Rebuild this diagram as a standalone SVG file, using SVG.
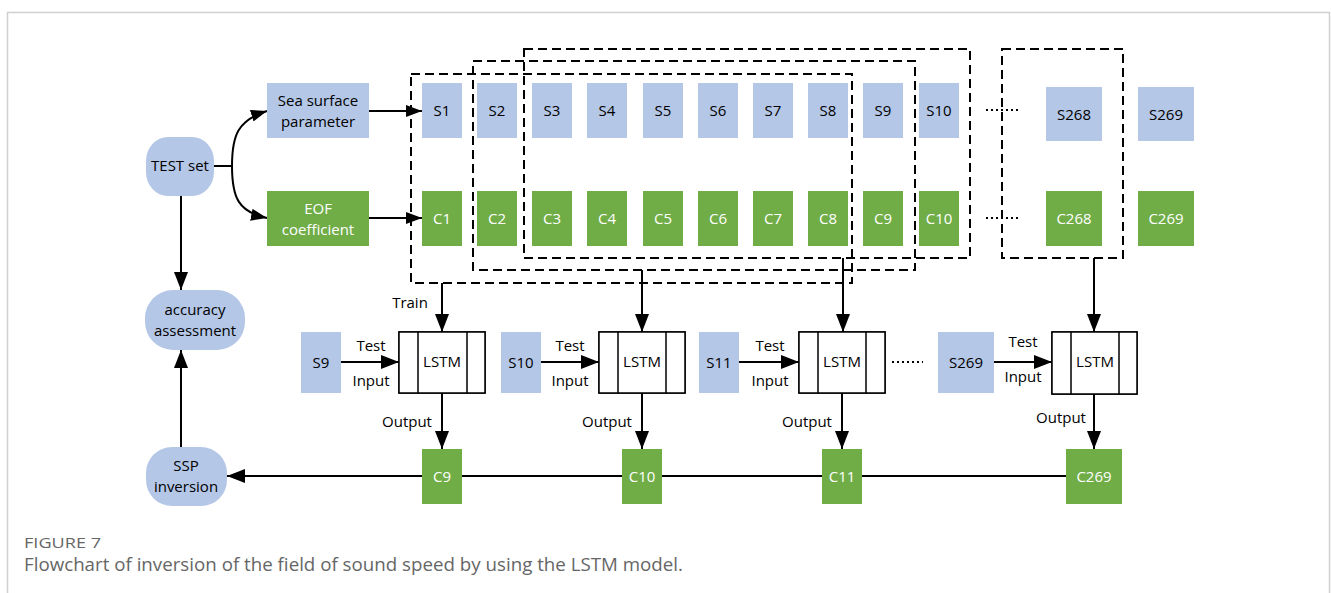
<svg xmlns="http://www.w3.org/2000/svg" width="1331" height="593" viewBox="0 0 1331 593">
<defs>
<marker id="ah" markerUnits="userSpaceOnUse" markerWidth="18" markerHeight="14" refX="18" refY="7" orient="auto"><path d="M0,0 L18,7 L0,14 z" fill="#000"/></marker>
<marker id="ahs" markerUnits="userSpaceOnUse" markerWidth="16" markerHeight="12" refX="16" refY="6" orient="auto"><path d="M0,0 L16,6 L0,12 z" fill="#000"/></marker>
<linearGradient id="lg" x1="0" y1="0" x2="1" y2="1"><stop offset="0" stop-color="#dde4f1"/><stop offset="1" stop-color="#ffffff"/></linearGradient>
<linearGradient id="lg2" x1="0" y1="0" x2="1" y2="1"><stop offset="0" stop-color="#eef1f8"/><stop offset="1" stop-color="#ffffff"/></linearGradient>
<style>
.b{fill:#b4c7e7}
.g{fill:#70ad47}
.t{font-family:"Open Sans","Liberation Sans",sans-serif;font-size:15px;fill:#000;text-anchor:middle}
.w{font-family:"Open Sans","Liberation Sans",sans-serif;font-size:15px;fill:#fff;text-anchor:middle}
.ln{fill:none;stroke:#000;stroke-width:2}
.d{fill:none;stroke:#000;stroke-width:2;stroke-dasharray:9 5}
.dot{fill:none;stroke:#000;stroke-width:2;stroke-dasharray:2 3}
.lstm{fill:#fff;stroke:#000;stroke-width:1.5}
</style>
</defs>
<rect width="1331" height="593" fill="#fff"/>
<path d="M7.5,593 V12.5 H1329.5 V593" fill="none" stroke="#d0d0d0" stroke-width="1.5"/>

<g id="connectors">
<path d="M214,166 H232" class="ln"/>
<path d="M232,166 C232,135 238,120 267,111" class="ln" marker-end="url(#ahs)"/>
<path d="M232,166 C232,197 238,212 267,218" class="ln" marker-end="url(#ahs)"/>
<path d="M369,111 H422" class="ln" marker-end="url(#ahs)"/>
<path d="M369,218 H422" class="ln" marker-end="url(#ahs)"/>
<path d="M181,196 V290" class="ln" marker-end="url(#ah)"/>
<path d="M181,447 V350" class="ln" marker-end="url(#ah)"/>
<path d="M1066,476 H227" class="ln" marker-end="url(#ah)"/>
<path d="M442,283 V332" class="ln" marker-end="url(#ah)"/>
<path d="M642,270 V332" class="ln" marker-end="url(#ah)"/>
<path d="M843,258 V332" class="ln" marker-end="url(#ah)"/>
<path d="M1094,258 V332" class="ln" marker-end="url(#ah)"/>
<path d="M341,362 H399" class="ln" marker-end="url(#ah)"/>
<path d="M541,362 H599" class="ln" marker-end="url(#ah)"/>
<path d="M739,362 H799" class="ln" marker-end="url(#ah)"/>
<path d="M994,362 H1052" class="ln" marker-end="url(#ah)"/>
<path d="M442,393 V449" class="ln" marker-end="url(#ah)"/>
<path d="M642,393 V449" class="ln" marker-end="url(#ah)"/>
<path d="M842,393 V449" class="ln" marker-end="url(#ah)"/>
<path d="M1094,394 V449" class="ln" marker-end="url(#ah)"/>
</g>

<g id="test-set"><rect x="146" y="137" width="68" height="59" rx="22" ry="24" class="b"/><text x="180" y="171" class="t">TEST set</text></g>
<g id="accuracy"><rect x="145" y="290" width="100" height="60" rx="28" ry="28" class="b"/><text x="195" y="315" class="t">accuracy</text><text x="195" y="336" class="t">assessment</text></g>
<g id="ssp"><rect x="146" y="447" width="81" height="59" rx="26" ry="26" class="b"/><text x="186" y="471" class="t">SSP</text><text x="186" y="492" class="t">inversion</text></g>
<g id="sea"><rect x="267" y="83" width="102" height="55" class="b"/><text x="318" y="106" class="t">Sea surface</text><text x="318" y="127" class="t">parameter</text></g>
<g id="eof"><rect x="267" y="191" width="102" height="55" class="g"/><text x="318" y="214" class="w">EOF</text><text x="318" y="235" class="w">coefficient</text></g>

<g id="s-row">
<rect x="422" y="83" width="40" height="55" class="b"/><text x="442" y="116" class="t">S1</text>
<rect x="477" y="83" width="40" height="55" class="b"/><text x="497" y="116" class="t">S2</text>
<rect x="532" y="83" width="40" height="55" class="b"/><text x="552" y="116" class="t">S3</text>
<rect x="587" y="83" width="40" height="55" class="b"/><text x="607" y="116" class="t">S4</text>
<rect x="643" y="83" width="40" height="55" class="b"/><text x="663" y="116" class="t">S5</text>
<rect x="698" y="83" width="40" height="55" class="b"/><text x="718" y="116" class="t">S6</text>
<rect x="753" y="83" width="40" height="55" class="b"/><text x="773" y="116" class="t">S7</text>
<rect x="808" y="83" width="40" height="55" class="b"/><text x="828" y="116" class="t">S8</text>
<rect x="863" y="83" width="40" height="55" class="b"/><text x="883" y="116" class="t">S9</text>
<rect x="919" y="83" width="40" height="55" class="b"/><text x="939" y="116" class="t">S10</text>
<rect x="1046" y="87" width="56" height="54" class="b"/><text x="1074" y="120" class="t">S268</text>
<rect x="1138" y="87" width="56" height="54" class="b"/><text x="1166" y="120" class="t">S269</text>
</g>
<g id="c-row">
<rect x="422" y="191" width="40" height="55" class="g"/><text x="442" y="224" class="w">C1</text>
<rect x="477" y="191" width="40" height="55" class="g"/><text x="497" y="224" class="w">C2</text>
<rect x="532" y="191" width="40" height="55" class="g"/><text x="552" y="224" class="w">C3</text>
<rect x="587" y="191" width="40" height="55" class="g"/><text x="607" y="224" class="w">C4</text>
<rect x="643" y="191" width="40" height="55" class="g"/><text x="663" y="224" class="w">C5</text>
<rect x="698" y="191" width="40" height="55" class="g"/><text x="718" y="224" class="w">C6</text>
<rect x="753" y="191" width="40" height="55" class="g"/><text x="773" y="224" class="w">C7</text>
<rect x="808" y="191" width="40" height="55" class="g"/><text x="828" y="224" class="w">C8</text>
<rect x="863" y="191" width="40" height="55" class="g"/><text x="883" y="224" class="w">C9</text>
<rect x="919" y="191" width="40" height="55" class="g"/><text x="939" y="224" class="w">C10</text>
<rect x="1046" y="191" width="56" height="55" class="g"/><text x="1074" y="224" class="w">C268</text>
<rect x="1138" y="191" width="56" height="55" class="g"/><text x="1166" y="224" class="w">C269</text>
</g>

<g id="windows">
<rect x="411" y="74" width="441" height="209" class="d"/>
<rect x="473" y="61" width="442" height="209" class="d"/>
<rect x="524" y="49" width="446" height="209" class="d"/>
<rect x="1002" y="49" width="121" height="209" class="d"/>
<path d="M986,110 H1018 M986,218 H1018 M892,362 H923" class="dot"/>
</g>

<g id="test-inputs">
<rect x="301" y="332" width="40" height="61" class="b"/><text x="321" y="368" class="t">S9</text>
<rect x="501" y="332" width="40" height="61" class="b"/><text x="521" y="368" class="t">S10</text>
<rect x="699" y="332" width="40" height="61" class="b"/><text x="719" y="368" class="t">S11</text>
<rect x="938" y="332" width="56" height="61" class="b"/><text x="966" y="368" class="t">S269</text>
</g>

<g id="lstm1"><rect x="399" y="332" width="86" height="61" class="lstm"/><rect x="399.75" y="332.75" width="18.25" height="59.5" fill="url(#lg)"/><rect x="418" y="332.75" width="49" height="59.5" fill="url(#lg2)"/><path d="M399,332 H485 V393 H399 Z M418,332 V393 M467,332 V393" class="lstm" fill="none"/><text x="442" y="367" class="t">LSTM</text></g>
<g id="lstm2"><rect x="599" y="332" width="86" height="61" class="lstm"/><rect x="599.75" y="332.75" width="18.25" height="59.5" fill="url(#lg)"/><rect x="618" y="332.75" width="48" height="59.5" fill="url(#lg2)"/><path d="M599,332 H685 V393 H599 Z M618,332 V393 M666,332 V393" class="lstm" fill="none"/><text x="642" y="367" class="t">LSTM</text></g>
<g id="lstm3"><rect x="799" y="332" width="86" height="61" class="lstm"/><rect x="799.75" y="332.75" width="18.25" height="59.5" fill="url(#lg)"/><rect x="818" y="332.75" width="48" height="59.5" fill="url(#lg2)"/><path d="M799,332 H885 V393 H799 Z M818,332 V393 M866,332 V393" class="lstm" fill="none"/><text x="842" y="367" class="t">LSTM</text></g>
<g id="lstm4"><rect x="1052" y="332" width="85" height="62" class="lstm"/><rect x="1052.75" y="332.75" width="18.25" height="60.5" fill="url(#lg)"/><rect x="1071" y="332.75" width="48" height="60.5" fill="url(#lg2)"/><path d="M1052,332 H1137 V394 H1052 Z M1071,332 V394 M1119,332 V394" class="lstm" fill="none"/><text x="1095" y="367" class="t">LSTM</text></g>

<g id="outputs">
<rect x="422" y="449" width="40" height="55" class="g"/><text x="442" y="482" class="w">C9</text>
<rect x="622" y="449" width="40" height="55" class="g"/><text x="642" y="482" class="w">C10</text>
<rect x="822" y="449" width="40" height="55" class="g"/><text x="842" y="482" class="w">C11</text>
<rect x="1066" y="449" width="56" height="55" class="g"/><text x="1094" y="482" class="w">C269</text>
</g>

<g id="labels">
<text x="410" y="308" class="t">Train</text>
<text x="371" y="351" class="t">Test</text><text x="371" y="386" class="t">Input</text>
<text x="570" y="351" class="t">Test</text><text x="570" y="386" class="t">Input</text>
<text x="770" y="351" class="t">Test</text><text x="770" y="386" class="t">Input</text>
<text x="1023" y="347" class="t">Test</text><text x="1023" y="382" class="t">Input</text>
<text x="407" y="427" class="t">Output</text>
<text x="607" y="427" class="t">Output</text>
<text x="807" y="427" class="t">Output</text>
<text x="1061" y="423" class="t">Output</text>
</g>

<g id="caption">
<text x="24" y="548" font-family="'Open Sans','Liberation Sans',sans-serif" font-size="14" fill="#666" textLength="77" lengthAdjust="spacingAndGlyphs">FIGURE 7</text>
<text x="24" y="571" font-family="'Open Sans','Liberation Sans',sans-serif" font-size="18" fill="#666" textLength="659" lengthAdjust="spacingAndGlyphs">Flowchart of inversion of the field of sound speed by using the LSTM model.</text>
</g>
</svg>
